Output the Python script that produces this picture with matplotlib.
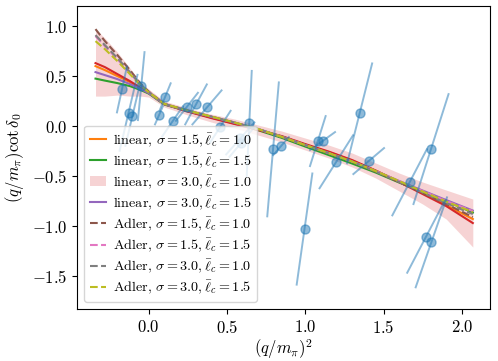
import matplotlib
matplotlib.use("Agg")
import matplotlib.pyplot as plt

plt.rcParams["font.family"] = "serif"
plt.rcParams["font.serif"] = ["cmr10"]
plt.rcParams["mathtext.fontset"] = "cm"
plt.rcParams["axes.formatter.use_mathtext"] = True
plt.rcParams["font.size"] = 12

# --- lattice points (x, y) and correlated error directions ---
pts_x = [-0.171, -0.129, -0.104, -0.048, 0.065, 0.105, 0.152, 0.244, 0.302, 0.372, 0.457,
         0.642, 0.585, 0.591, 0.794, 0.845, 0.995, 1.080, 1.110, 1.198, 1.347, 1.405,
         1.666, 1.803, 1.771, 1.805]
pts_y = [0.367, 0.133, 0.103, 0.400, 0.107, 0.293, 0.047, 0.193, 0.217, 0.187, -0.007,
         0.027, -0.123, -0.167, -0.233, -0.200, -1.030, -0.150, -0.150, -0.357, 0.127, -0.350,
         -0.563, -0.230, -1.107, -1.163]
err_x = [0.032, 0.057, 0.045, 0.021, 0.025, 0.035, 0.066, 0.070, 0.069, 0.093, 0.066,
         0.016, 0.090, 0.075, 0.037, 0.050, 0.050, 0.050, 0.080, 0.107, 0.080, 0.098,
         0.110, 0.112, 0.120, 0.100]
err_y = [0.23, 0.38, 0.30, 0.34, 0.09, 0.135, 0.15, 0.14, 0.20, 0.17, 0.16,
         0.525, 0.16, 0.14, 0.67, 0.09, 0.556, 0.25, 0.09, 0.265, 0.50, 0.13,
         0.33, 0.55, 0.36, 0.45]

# --- fit curves ---
q2 = [-0.34, -0.28, -0.20, -0.12, -0.05, 0.00, 0.10, 0.25, 0.40, 0.55, 0.70, 0.85,
      1.00, 1.15, 1.30, 1.45, 1.60, 1.75, 1.90, 2.07]

lin_15_10 = [0.60, 0.56, 0.50, 0.44, 0.375, 0.33, 0.22, 0.15, 0.088, 0.028, -0.035, -0.105,
             -0.185, -0.26, -0.345, -0.445, -0.555, -0.67, -0.79, -0.93]
lin_15_15 = [0.475, 0.455, 0.43, 0.40, 0.36, 0.325, 0.215, 0.148, 0.085, 0.025, -0.042, -0.118,
             -0.205, -0.29, -0.375, -0.465, -0.565, -0.66, -0.75, -0.865]
lin_30_10 = [0.63, 0.59, 0.52, 0.45, 0.38, 0.335, 0.22, 0.145, 0.08, 0.02, -0.04, -0.10,
             -0.18, -0.255, -0.34, -0.445, -0.56, -0.68, -0.80, -0.97]
lin_30_10_lo = [0.30, 0.30, 0.31, 0.30, 0.30, 0.29, 0.19, 0.11, 0.04, -0.02, -0.09, -0.16,
                -0.24, -0.32, -0.41, -0.52, -0.65, -0.78, -0.93, -1.21]
lin_30_10_hi = [0.97, 0.88, 0.74, 0.58, 0.43, 0.37, 0.25, 0.18, 0.12, 0.07, 0.01, -0.05,
                -0.12, -0.19, -0.27, -0.37, -0.47, -0.56, -0.64, -0.73]
lin_30_15 = [0.54, 0.51, 0.47, 0.42, 0.37, 0.33, 0.218, 0.152, 0.092, 0.033, -0.03, -0.105,
             -0.19, -0.272, -0.355, -0.45, -0.55, -0.645, -0.74, -0.845]
adl_15_10 = [0.97, 0.85, 0.71, 0.56, 0.42, 0.345, 0.222, 0.155, 0.095, 0.035, -0.03, -0.108,
             -0.19, -0.27, -0.355, -0.455, -0.56, -0.67, -0.78, -0.91]
adl_15_15 = [0.90, 0.80, 0.67, 0.53, 0.41, 0.34, 0.222, 0.155, 0.095, 0.035, -0.03, -0.108,
             -0.19, -0.27, -0.355, -0.45, -0.55, -0.65, -0.75, -0.85]
adl_30_10 = [0.91, 0.81, 0.68, 0.54, 0.41, 0.34, 0.222, 0.155, 0.095, 0.035, -0.03, -0.108,
             -0.19, -0.27, -0.355, -0.455, -0.56, -0.665, -0.77, -0.88]
adl_30_15 = [0.85, 0.77, 0.65, 0.52, 0.405, 0.338, 0.222, 0.155, 0.095, 0.035, -0.03, -0.108,
             -0.19, -0.27, -0.355, -0.45, -0.55, -0.655, -0.755, -0.86]

fig = plt.figure(figsize=(4.98, 3.61), dpi=100)
ax = fig.add_axes([0.155, 0.144, 0.829, 0.839])

lab = r", $\sigma=%s, \bar{\ell}_c=%s$"
ax.plot(q2, lin_15_10, color="C1", label="linear" + lab % ("1.5", "1.0"))
ax.plot(q2, lin_15_15, color="C2", label="linear" + lab % ("1.5", "1.5"))
ax.plot(q2, lin_30_10, color="C3")
ax.fill_between(q2, lin_30_10_lo, lin_30_10_hi, color="C3", alpha=0.2, lw=0,
                label="linear" + lab % ("3.0", "1.0"))
ax.plot(q2, lin_30_15, color="C4", label="linear" + lab % ("3.0", "1.5"))
ax.plot(q2, adl_15_10, "--", color="C5", label="Adler" + lab % ("1.5", "1.0"))
ax.plot(q2, adl_15_15, "--", color="C6", label="Adler" + lab % ("1.5", "1.5"))
ax.plot(q2, adl_30_10, "--", color="C7", label="Adler" + lab % ("3.0", "1.0"))
ax.plot(q2, adl_30_15, "--", color="C8", label="Adler" + lab % ("3.0", "1.5"))

# data with tilted (correlated) error bars
for x, y, ex, ey in zip(pts_x, pts_y, err_x, err_y):
    ax.plot([x - ex, x + ex], [y - ey, y + ey], color="C0", alpha=0.5, lw=1.4)
ax.plot(pts_x, pts_y, "o", color="C0", alpha=0.5, ms=6.5)

ax.set_xlim(-0.457, 2.18)
ax.set_ylim(-1.83, 1.2)
ax.set_xticks([0.0, 0.5, 1.0, 1.5, 2.0])
ax.set_yticks([-1.5, -1.0, -0.5, 0.0, 0.5, 1.0])
ax.set_xlabel(r"$(q/m_\pi)^2$", labelpad=1)
ax.set_ylabel(r"$(q/m_\pi)\cot\delta_0$")
ax.legend(loc="lower left", fontsize=10.2, labelspacing=0.25, handlelength=1.1,
          handletextpad=0.5)

fig.savefig("out.png", dpi=100)
